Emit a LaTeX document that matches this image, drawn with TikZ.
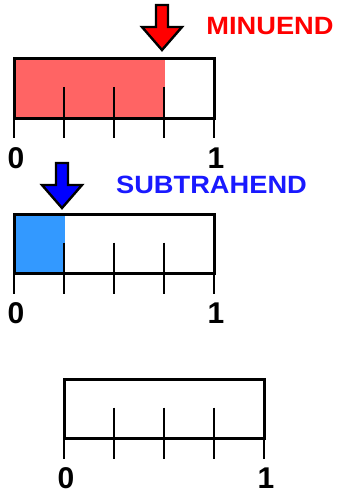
\documentclass[tikz,border=0pt]{standalone}
\usepackage{fontspec}
\setmainfont{Liberation Sans}
\definecolor{barred}{RGB}{255,100,100}
\definecolor{barblue}{RGB}{51,153,255}
\definecolor{txtblue}{RGB}{25,25,255}
\tikzset{
  frame/.style={line width=3pt, line join=miter},
  tick/.style={line width=1.4pt},
  numlbl/.style={font=\bfseries\fontsize{30}{30}\selectfont, inner sep=0pt},
  biglbl/.style={font=\bfseries\fontsize{25}{25}\selectfont, inner sep=0pt, xscale=1.09},
  bigarrow/.style={line width=2.4pt, line join=miter, draw=black}
}
\newcommand{\numberbar}[3]{% x-left, y-top, name
  \foreach \k in {1,2,3}{
    \draw[tick] ({#1+\k*50},{#2+28}) -- ({#1+\k*50},{#2+79});
  }
  \draw[tick] (#1,{#2+59}) -- (#1,{#2+79});
  \draw[tick] ({#1+200},{#2+59}) -- ({#1+200},{#2+79});
  \draw[frame] (#1,#2) rectangle ({#1+200},{#2+59});
  \node[numlbl] (#3zero) at ({#1+2},{#2+99}) {0};
  \node[numlbl] (#3one) at ({#1+202},{#2+99}) {1};
}
\newcommand{\downarrowshape}[4]{% center x, top y, fill color
  \filldraw[bigarrow, fill=#3] ({#1-6},#2) -- ({#1+6},#2) -- ({#1+6},{#2+22}) -- ({#1+20},{#2+22})
    -- (#1,{#2+45}) -- ({#1-20},{#2+22}) -- ({#1-6},{#2+22}) -- cycle;
  \coordinate (#4) at (#1,{#2+45});
}
\begin{document}
\begin{tikzpicture}[x=1pt,y=-1pt]
\useasboundingbox (0,0) rectangle (340,495);
% Minuend
\fill[barred] (14,59) rectangle (164.5,118);
\numberbar{14}{59}{a}
\downarrowshape{162}{5}{red}{mtip}
\node[biglbl, text=red] (minuend) at (270,26) {MINUEND};
% Subtrahend
\fill[barblue] (14,214) rectangle (64.5,274);
\numberbar{14}{214.5}{b}
\downarrowshape{62}{163}{blue}{stip}
\node[biglbl, text=txtblue] (subtrahend) at (211.5,184.5) {SUBTRAHEND};
% Difference
\numberbar{64}{379.5}{c}
\end{tikzpicture}
\end{document}
